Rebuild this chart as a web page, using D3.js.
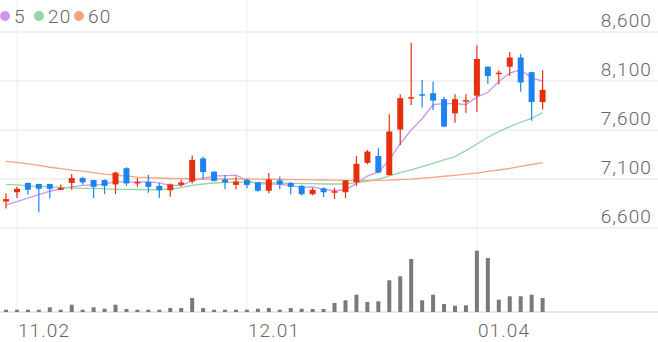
<!DOCTYPE html>
<html lang="ko">
<head>
<meta charset="UTF-8">
<title>주가 차트</title>
<script src="https://cdn.jsdelivr.net/npm/d3@7"></script>
<style>
  body { margin: 0; background: #fff; overflow: hidden; }
  .lbl { font-family: Roboto, "Noto Sans", sans-serif; font-weight: 300; font-size: 19px; letter-spacing: 1.1px; fill: #666; }
</style>
</head>
<body>
<div id="chart"></div>
<script>
// 일자 (11/01 ~ 01/12)
const dates = ["11.01","11.02","11.03","11.06","11.07","11.08","11.09","11.10","11.13","11.14",
  "11.15","11.16","11.17","11.20","11.21","11.22","11.23","11.24","11.27","11.28",
  "11.29","11.30","12.01","12.04","12.05","12.06","12.07","12.08","12.11","12.12",
  "12.13","12.14","12.15","12.18","12.19","12.20","12.21","12.22","12.26","12.27",
  "12.28","01.02","01.03","01.04","01.05","01.08","01.09","01.10","01.11","01.12"];

const opens = [6870,6965,7060,7050,7050,6990,7060,7110,7090,7090,
  7045,7210,7060,7070,7030,6985,7040,7075,7310,7175,
  7095,7040,7090,7065,6980,7085,7060,7030,6945,7005,
  6965,6965,7065,7265,7335,7140,7605,7920,7965,7975,
  7915,7770,7900,7950,8245,8175,8245,8340,8190,7885];
const highs = [6955,7020,7065,7050,7050,7045,7150,7120,7090,7095,
  7175,7220,7110,7140,7060,7055,7095,7340,7330,7180,
  7140,7125,7105,7070,7160,7125,7070,7040,7010,7015,
  7010,7090,7335,7395,7415,7760,7965,8490,8110,8095,
  7940,7965,7965,8465,8250,8210,8395,8375,8195,8210];
const lows = [6800,6905,6940,6760,6900,6985,6990,7045,6905,6945,
  6945,7030,7020,6960,6905,6920,7020,7055,7095,7075,
  6995,6995,7005,6970,6955,6995,6945,6935,6935,6915,
  6895,6905,7030,7250,7160,7135,7445,7855,7830,7805,
  7630,7675,7775,7785,8070,8065,8150,7990,7695,7810];
const closes = [6895,7000,6990,7000,7000,7010,7110,7065,7020,7030,
  7165,7055,7070,7020,6985,7045,7065,7295,7170,7080,
  7065,7075,7040,6980,7095,7045,7020,6945,6990,6965,
  6975,7085,7255,7380,7165,7585,7925,7935,7955,7900,
  7635,7915,7905,8325,8150,8185,8340,8085,7885,8010];
const volumes = [23000,23000,23000,23000,47000,23000,73000,23000,47000,33000,
  73000,30000,23000,23000,23000,40000,40000,140000,40000,23000,
  23000,23000,23000,33000,40000,23000,40000,33000,30000,30000,
  90000,117000,173000,100000,107000,317000,357000,530000,117000,173000,
  80000,63000,67000,613000,540000,123000,157000,157000,173000,140000];

// 이동평균선
const ma5 = [6835,6870,6905,6940,6975,7000,7020,7035,7040,7045,
  7075,7065,7070,7070,7060,7035,7035,7080,7110,7130,
  7135,7140,7085,7050,7050,7045,7035,7015,7020,6995,
  6980,6990,7055,7130,7170,7295,7460,7600,7715,7860,
  7870,7870,7860,7935,7985,8095,8180,8215,8130,8100];
const ma20 = [7045,7040,7030,7025,7020,7015,7010,7005,7005,7000,
  6995,6995,6993,6990,6993,6998,7013,7034,7049,7059,
  7066,7069,7069,7066,7064,7059,7056,7054,7052,7049,
  7049,7049,7062,7077,7097,7131,7164,7192,7226,7260,
  7294,7328,7389,7457,7526,7583,7634,7679,7719,7777];
const ma60 = [7280,7270,7255,7240,7220,7205,7190,7180,7165,7150,
  7140,7130,7120,7115,7110,7105,7105,7100,7100,7100,
  7100,7100,7100,7098,7097,7095,7094,7093,7092,7090,
  7088,7086,7085,7085,7086,7088,7093,7098,7108,7117,
  7128,7138,7149,7161,7177,7192,7209,7228,7248,7268];

const yTicks = [6600, 7100, 7600, 8100, 8600];
const xTickLabels = ["11.02", "12.01", "01.04"];
const legendNames = ["5", "20", "60"];

const width = 658, height = 342;
const upColor = "#e5300f", downColor = "#1c84f0";
const maColors = ["#d095ec", "#8ed8a3", "#f5a57e"];

const svg = d3.select("#chart").append("svg")
  .attr("width", width)
  .attr("height", height);

const x = d3.scalePoint().domain(dates).range([6, 542.6]);
const y = d3.scaleLinear().domain([6600, 8600]).range([228, 32]);
const yVol = d3.scaleLinear().domain([0, 700000]).range([312, 242]);

// 격자
svg.append("g").selectAll("line")
  .data(yTicks)
  .join("line")
  .attr("x1", 0).attr("x2", width)
  .attr("y1", d => y(d)).attr("y2", d => y(d))
  .attr("stroke", "#eeeeee").attr("stroke-width", 1.5);

svg.append("g").selectAll("line")
  .data(xTickLabels)
  .join("line")
  .attr("x1", d => x(d)).attr("x2", d => x(d))
  .attr("y1", 0).attr("y2", yVol(0))
  .attr("stroke", "#eeeeee").attr("stroke-width", 1);

svg.append("line")
  .attr("x1", 0).attr("x2", width)
  .attr("y1", yVol(0)).attr("y2", yVol(0))
  .attr("stroke", "#e2e2e2").attr("stroke-width", 1.5);

// 축 라벨
svg.append("g").selectAll("text")
  .data(yTicks)
  .join("text")
  .attr("class", "lbl")
  .attr("x", 652)
  .attr("y", d => y(d) - 5)
  .attr("text-anchor", "end")
  .text(d => d3.format(",")(d));

svg.append("g").selectAll("text")
  .data(xTickLabels)
  .join("text")
  .attr("class", "lbl")
  .attr("x", d => x(d) + 1)
  .attr("y", 337)
  .text(d => d);

// 거래량
svg.append("g").selectAll("rect")
  .data(volumes)
  .join("rect")
  .attr("x", (d, i) => x(dates[i]) - 2)
  .attr("width", 4)
  .attr("y", d => yVol(d))
  .attr("height", d => yVol(0) - yVol(d))
  .attr("fill", "#7a7a7a");

// 이동평균선
const line = d3.line()
  .x((d, i) => x(dates[i]))
  .y(d => y(d));

[ma5, ma20, ma60].forEach((s, k) => {
  svg.append("path")
    .datum(s)
    .attr("fill", "none")
    .attr("stroke", maColors[k])
    .attr("stroke-width", 1.3)
    .attr("d", line);
});

// 캔들
const candles = dates.map((d, i) => ({
  date: d, open: opens[i], high: highs[i], low: lows[i], close: closes[i]
}));

const cg = svg.append("g").selectAll("g")
  .data(candles)
  .join("g")
  .attr("fill", d => d.close >= d.open ? upColor : downColor)
  .attr("stroke", d => d.close >= d.open ? upColor : downColor);

cg.append("line")
  .attr("x1", d => x(d.date)).attr("x2", d => x(d.date))
  .attr("y1", d => y(d.high)).attr("y2", d => y(d.low))
  .attr("stroke-width", 1.2);

cg.append("rect")
  .attr("x", d => x(d.date) - 3)
  .attr("width", 6)
  .attr("y", d => y(Math.max(d.open, d.close)))
  .attr("height", d => Math.max(1.5, Math.abs(y(d.open) - y(d.close))))
  .attr("stroke", "none");

// 범례
const lg = svg.append("g").selectAll("g")
  .data(legendNames)
  .join("g")
  .attr("transform", (d, i) => `translate(${[5, 39, 79][i]}, 16)`);

lg.append("circle")
  .attr("r", 5)
  .attr("fill", (d, i) => maColors[i]);

lg.append("text")
  .attr("class", "lbl")
  .attr("x", 9)
  .attr("y", 7)
  .text(d => d);
</script>
</body>
</html>
